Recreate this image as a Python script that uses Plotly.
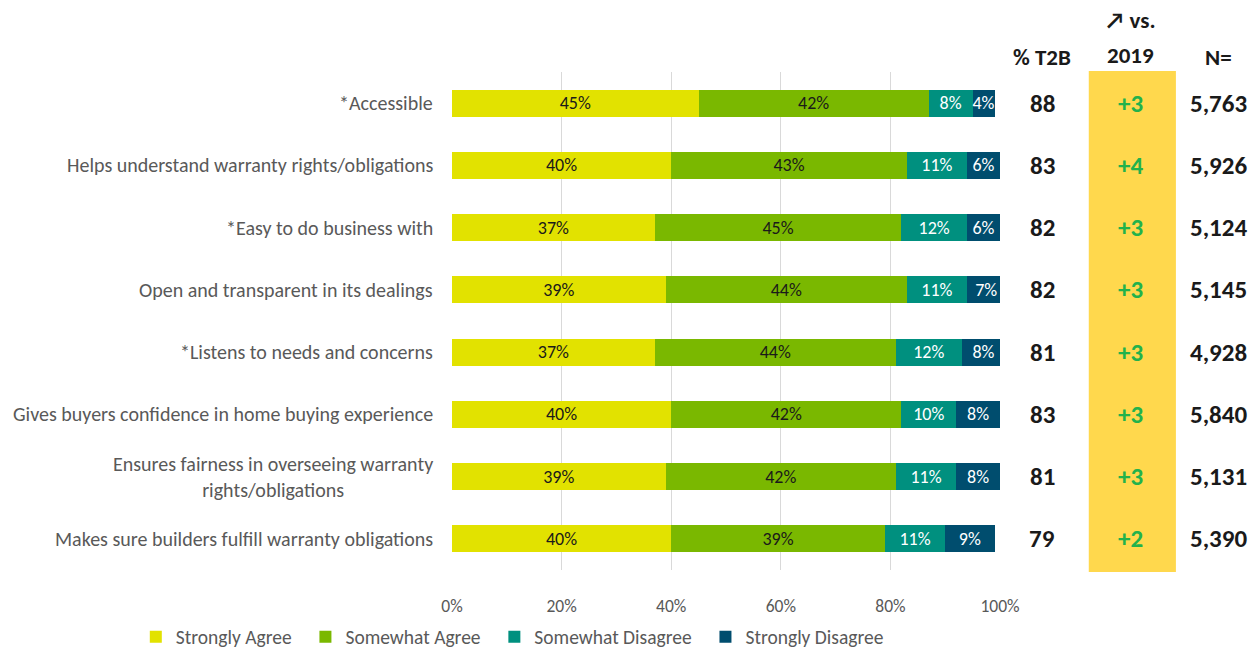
import plotly.graph_objects as go

# Survey statements (top to bottom)
statements = [
    "*Accessible",
    "Helps understand warranty rights/obligations",
    "*Easy to do business with",
    "Open and transparent in its dealings",
    "*Listens to needs and concerns",
    "Gives buyers confidence in home buying experience",
    "Ensures fairness in overseeing warranty<br>rights/obligations",
    "Makes sure builders fulfill warranty obligations",
]

# Response shares (%)
strongly_agree = [45, 40, 37, 39, 37, 40, 39, 40]
somewhat_agree = [42, 43, 45, 44, 44, 42, 42, 39]
somewhat_disagree = [8, 11, 12, 11, 12, 10, 11, 11]
strongly_disagree = [4, 6, 6, 7, 8, 8, 8, 9]

# Side columns
t2b = [88, 83, 82, 82, 81, 83, 81, 79]
change_vs_2019 = ["+3", "+4", "+3", "+3", "+3", "+3", "+3", "+2"]
n_sizes = ["5,763", "5,926", "5,124", "5,145", "4,928", "5,840", "5,131", "5,390"]

x_ticks = [0, 20, 40, 60, 80, 100]
x_tick_labels = ["0%", "20%", "40%", "60%", "80%", "100%"]

FONT = "Carlito, Calibri, Lato, sans-serif"
PAD = "\u00a0\u00a0"  # extra spacing after each legend entry

series = [
    ("Strongly Agree", strongly_agree, "#E2E200", "#1a1a1a"),
    ("Somewhat Agree", somewhat_agree, "#7AB800", "#1a1a1a"),
    ("Somewhat Disagree", somewhat_disagree, "#00907F", "#ffffff"),
    ("Strongly Disagree", strongly_disagree, "#004D6E", "#ffffff"),
]

y_ids = list(range(len(statements)))

fig = go.Figure()
for name, vals, color, txtcolor in series:
    fig.add_trace(go.Bar(
        name=name + PAD,
        y=y_ids,
        x=vals,
        orientation="h",
        marker=dict(color=color, line=dict(width=0)),
        width=0.43,
        text=[f"{v}%" for v in vals],
        textposition="inside",
        insidetextanchor="middle",
        textangle=0,
        constraintext="none",
        textfont=dict(family=FONT, size=18, color=txtcolor),
        hoverinfo="skip",
    ))

annotations = []

# Statement labels, right aligned to the plot edge
for i, s in enumerate(statements):
    annotations.append(dict(
        x=0, xref="paper", y=i, yref="y", xanchor="right", yanchor="middle",
        xshift=-17, text=s, showarrow=False, align="center",
        font=dict(family=FONT, size=20, color="#595959"),
    ))

# Side columns
col_t2b, col_chg, col_n = 1.077, 1.239, 1.398
num_font = dict(family=FONT, size=25, color="#1a1a1a")
for i in range(len(statements)):
    annotations.append(dict(
        x=col_t2b, xref="paper", y=i, yref="y", xanchor="center", yanchor="middle",
        text=f"<b>{t2b[i]}</b>", showarrow=False, font=num_font,
    ))
    annotations.append(dict(
        x=col_chg, xref="paper", y=i, yref="y", xanchor="center", yanchor="middle",
        text=f"<b>{change_vs_2019[i]}</b>", showarrow=False,
        font=dict(family=FONT, size=25, color="#22B24C"),
    ))
    annotations.append(dict(
        x=col_n, xref="paper", y=i, yref="y", xanchor="center", yanchor="middle",
        text=f"<b>{n_sizes[i]}</b>", showarrow=False, font=num_font,
    ))

# Column headers
hdr_font = dict(family=FONT, size=23, color="#1a1a1a")
headers = [
    (col_t2b, 1.030, "% T2B"),
    (col_chg, 1.1044, "↗ vs."),
    (col_chg, 1.0341, "2019"),
    (col_n, 1.030, "N="),
]
for hx, hy, htxt in headers:
    annotations.append(dict(
        x=hx, xref="paper", y=hy, yref="paper", xanchor="center", yanchor="middle",
        text=f"<b>{htxt}</b>", showarrow=False, font=hdr_font,
    ))

fig.update_layout(
    width=1257, height=651,
    margin=dict(l=452, r=257, t=72, b=81, autoexpand=False),
    paper_bgcolor="white", plot_bgcolor="white",
    barmode="stack",
    uniformtext=dict(minsize=18, mode="show"),
    font=dict(family=FONT, color="#595959"),
    xaxis=dict(
        range=[0, 100], tickvals=x_ticks, ticktext=x_tick_labels,
        showgrid=True, gridcolor="#D9D9D9", gridwidth=1, zeroline=False,
        showline=False, ticks="", ticklabelstandoff=23,
        tickfont=dict(family=FONT, size=17.5, color="#595959"), fixedrange=True,
    ),
    yaxis=dict(
        range=[len(statements) - 0.5, -0.5], showticklabels=False,
        showgrid=False, zeroline=False, showline=False, fixedrange=True,
    ),
    legend=dict(
        orientation="h", x=-0.577, xanchor="left", y=-0.1345, yanchor="middle",
        traceorder="normal", font=dict(family=FONT, size=19.5, color="#595959"),
        itemwidth=30, itemclick=False,
    ),
    showlegend=True,
    annotations=annotations,
    shapes=[dict(
        type="rect", xref="paper", yref="paper",
        x0=1.162, x1=1.321, y0=-0.004, y1=1.002,
        fillcolor="#FFD84D", line=dict(width=0), layer="below",
    )],
)

fig.write_html("out.html")
